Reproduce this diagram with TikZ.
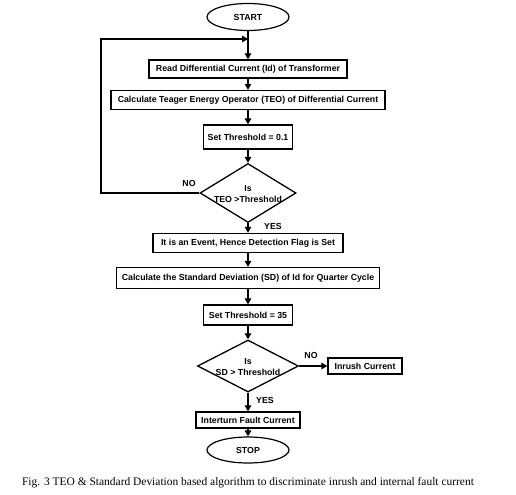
\documentclass[tikz,border=0pt]{standalone}
\usepackage{fontspec}
\setmainfont{Liberation Serif}
\setsansfont{Liberation Sans}
\usetikzlibrary{shapes.geometric,arrows.meta}
\begin{document}
\begin{tikzpicture}[x=1bp,y=-1bp,
  fnt/.style={font=\sffamily\bfseries\fontsize{8.8}{10.5}\selectfont},
  box/.style={draw,line width=1.3bp,inner sep=0pt,fnt},
  term/.style={draw,ellipse,line width=1.2bp,inner sep=0pt,fnt},
  dec/.style={draw,diamond,line width=1.3bp,inner sep=0pt},
  lbl/.style={inner sep=0pt,fnt,align=center},
  arr/.style={line width=1.3bp,-{Triangle[length=6bp,width=6.5bp]}},
  ln/.style={line width=1.3bp}]
\useasboundingbox (0,0) rectangle (516,495);
\node[term,minimum width=82bp,minimum height=27bp] (start) at (248,17) {START};
\node[box,minimum width=198bp,minimum height=18bp] (b1) at (248,69) {Read Differential Current (Id) of Transformer};
\node[box,minimum width=274bp,minimum height=19bp] (b2) at (248,100) {Calculate Teager Energy Operator (TEO) of Differential Current};
\node[box,minimum width=89bp,minimum height=24bp] (b3) at (248,137) {Set Threshold = 0.1};
\node[dec,minimum width=96bp,minimum height=59bp] (d1) at (248,193) {};
\node[lbl] (d1t) at (248,194) {Is\\TEO >Threshold};
\node[box,minimum width=190bp,minimum height=19bp] (b4) at (248,243) {It is an Event, Hence Detection Flag is Set};
\node[box,minimum width=263bp,minimum height=21bp] (b5) at (248,278) {Calculate the Standard Deviation (SD) of Id for Quarter Cycle};
\node[box,minimum width=89bp,minimum height=20bp] (b6) at (248,315) {Set Threshold = 35};
\node[dec,minimum width=101bp,minimum height=52bp] (d2) at (248,366) {};
\node[lbl] (d2t) at (248,367) {Is\\SD > Threshold};
\node[box,minimum width=74bp,minimum height=16bp] (inr) at (365,366) {Inrush Current};
\node[box,minimum width=104bp,minimum height=16bp] (itf) at (248,420) {Interturn Fault Current};
\node[term,minimum width=82bp,minimum height=26bp] (stop) at (248,450) {STOP};
\node[inner sep=0pt,font=\fontsize{11.5}{13}\selectfont] (cap) at (248,483) {Fig. 3 TEO \& Standard Deviation based algorithm to discriminate inrush and internal fault current};
\coordinate (join) at (248,39);
\coordinate (lc) at (101,193);
\draw[arr] (start) -- (b1);
\draw[arr] (b1) -- (b2);
\draw[arr] (b2) -- (b3);
\draw[arr] (b3) -- (d1);
\draw[arr] (d1) -- (b4);
\draw[arr] (b4) -- (b5);
\draw[arr] (b5) -- (b6);
\draw[arr] (b6) -- (d2);
\draw[arr] (d2) -- (inr);
\draw[arr] (d2) -- (itf);
\draw[arr] (itf) -- (stop);
\draw[arr] (d1.west) -- (lc) |- (join);
\node[lbl] (no1) at (189,183) {NO};
\node[lbl] (yes1) at (273,226) {YES};
\node[lbl] (no2) at (311,355) {NO};
\node[lbl] (yes2) at (265,400) {YES};
\end{tikzpicture}
\end{document}
